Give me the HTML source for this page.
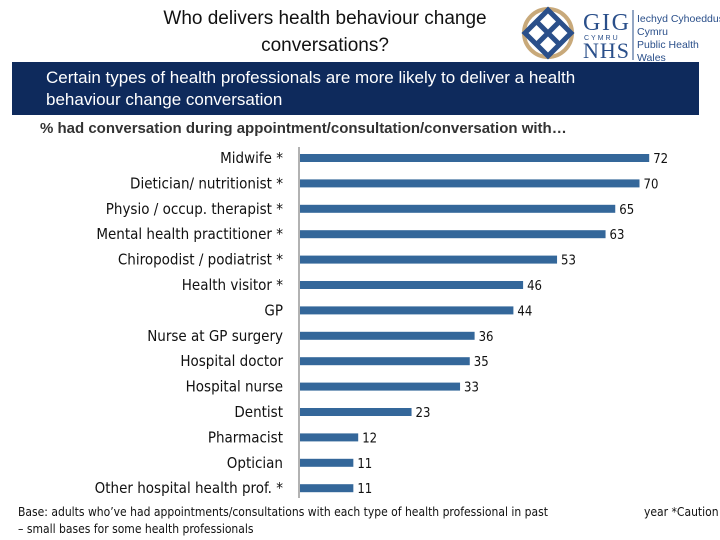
<!DOCTYPE html>
<html><head><meta charset="utf-8"><style>
body{margin:0;width:720px;height:540px;background:#fff;position:relative;overflow:hidden;font-family:"Liberation Sans",sans-serif}
.abs{position:absolute}
</style></head><body>
<div class="abs" style="left:130px;top:5px;width:390px;text-align:center;font-size:19px;line-height:27px;color:#111">Who delivers health behaviour change conversations?</div>
<div class="abs" style="left:515px;top:2px;width:205px;height:60px">
<svg width="205" height="60"><circle cx="33" cy="31" r="24" fill="none" stroke="#c8a97a" stroke-width="4"/><path d="M33 8 L56 31 L33 54 L10 31Z M23 21 L43 41 M43 21 L23 41" fill="none" stroke="#2a4f8a" stroke-width="5"/>
<text x="68" y="28" font-size="24" fill="#2a4f8a" font-family="Liberation Serif" textLength="46">GIG</text>
<text x="69" y="38" font-size="7" fill="#2a4f8a" letter-spacing="2">CYMRU</text>
<text x="68" y="56" font-size="22" fill="#2a4f8a" font-family="Liberation Serif" textLength="46">NHS</text>
<line x1="118" y1="8" x2="118" y2="58" stroke="#2a4f8a"/>
<text x="122" y="20" font-size="10.5" fill="#2a4f8a">Iechyd Cyhoeddus</text>
<text x="122" y="33" font-size="10.5" fill="#2a4f8a">Cymru</text>
<text x="122" y="46" font-size="10.5" fill="#2a4f8a">Public Health</text>
<text x="122" y="59" font-size="10.5" fill="#2a4f8a">Wales</text></svg></div>
<div class="abs" style="left:12px;top:62px;width:687px;height:53px;background:#0e2a5c;color:#fff;font-size:17px;line-height:22px;padding:5px 60px 0 34px;box-sizing:border-box">Certain types of health professionals are more likely to deliver a health behaviour change conversation</div>
<div class="abs" style="left:40px;top:120px;font-size:15px;font-weight:bold;color:#333">% had conversation during appointment/consultation/conversation with…</div>
<svg class="abs" id="chart" style="left:0;top:0" width="720" height="540"></svg>
<div class="abs" style="left:18px;top:504px;width:700px;font-size:12px;line-height:17px;color:#111;font-family:'DejaVu Sans Condensed','Liberation Sans',sans-serif">Base: adults who’ve had appointments/consultations with each type of health professional in past<span style="position:absolute;left:626px;top:0;white-space:nowrap">year *Caution</span><br>– small bases for some health professionals</div>
<script>
const categories=["Midwife *","Dietician/ nutritionist *","Physio / occup. therapist *","Mental health practitioner *","Chiropodist / podiatrist *","Health visitor *","GP","Nurse at GP surgery","Hospital doctor","Hospital nurse","Dentist","Pharmacist","Optician","Other hospital health prof. *"];
const values=[72,70,65,63,53,46,44,36,35,33,23,12,11,11];
const svg=document.getElementById('chart');const NS="http://www.w3.org/2000/svg";
const x0=300,scale=4.85,y0=158,step=25.4;
const xPos=v=>x0+v*scale, yPos=i=>y0+i*step;
function mk(t,a){const e=document.createElementNS(NS,t);for(const k in a)e.setAttribute(k,a[k]);svg.appendChild(e);return e;}
const ax=mk('line',{x1:299,x2:299,y1:147,y2:498,stroke:'#999','stroke-width':1.5});


categories.forEach((c,i)=>{
 const y=yPos(i);
 const r=mk('rect',{x:x0,y:y-4,width:xPos(values[i])-x0,height:8,fill:'#34679a'});
 
 
 const l=mk('text',{x:283,y:y+5,'text-anchor':'end','font-size':15,fill:'#111','font-family':'DejaVu Sans Condensed, Liberation Sans, sans-serif'});l.textContent=c;
 
 
 const v=mk('text',{x:xPos(values[i])+4,y:y+5,'font-size':13,fill:'#111','font-family':'DejaVu Sans Condensed, Liberation Sans, sans-serif'});v.textContent=values[i];
 
 
});
</script>
</body></html>
